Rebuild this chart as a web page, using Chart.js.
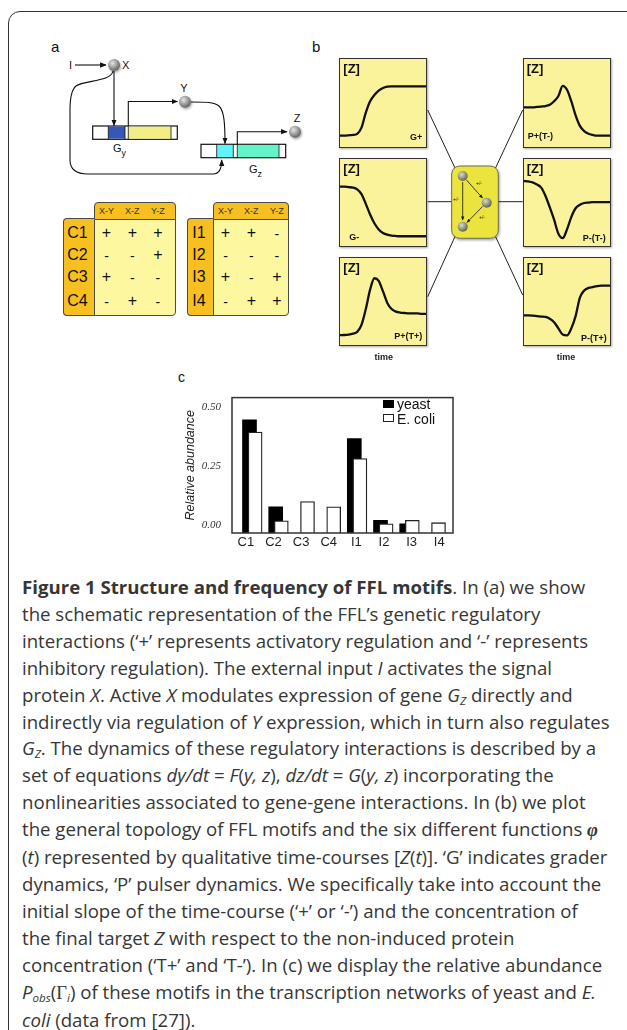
<!DOCTYPE html>
<html>
<head>
<meta charset="utf-8">
<script src="https://cdn.jsdelivr.net/npm/chart.js@4.4.1/dist/chart.umd.min.js"></script>
<style>
  html, body { margin: 0; padding: 0; background: #fff; }
  body { width: 627px; height: 1030px; position: relative; overflow: hidden;
         font-family: "Liberation Sans", Arial, sans-serif; color: #111; }
  .abs { position: absolute; }
  .frame { position: absolute; left: 8px; top: 11px; width: 650px; height: 1060px;
           border: 1.5px solid #333; border-radius: 12px; }
  .plabel { position: absolute; font-size: 15px; color: #111; }
  .box { position: absolute; background: #fbf39c; border: 1.3px solid #333;
         box-shadow: 1px 1px 2px rgba(0,0,0,0.35); overflow: hidden; }
  .box canvas { position: absolute; left: 0; top: 0; }
  .zlab { position: absolute; left: 3px; top: 2px; font-weight: bold; font-size: 13px; color: #111; }
  .blab { position: absolute; font-weight: bold; font-size: 9px; color: #111; white-space: nowrap; }
  .time { position: absolute; font-weight: bold; font-size: 9px; color: #222; transform: translate(-50%, -50%); }
  .tcell { position: absolute; box-sizing: border-box; }
  .tt { position: absolute; transform: translate(-50%, -50%); white-space: nowrap; }
  #caption { position: absolute; left: 22px; top: 574px; font-family: "Open Sans", sans-serif;
             color: #363636; line-height: 26.9px; font-size: 18px; }
  #caption div { white-space: nowrap; }
  #caption sub { font-size: 0.62em; vertical-align: -0.25em; line-height: 0; }
  .leg { position: absolute; font-size: 14px; color: #111; transform: translateY(-50%); white-space: nowrap; }
</style>
</head>
<body>
<script>
// Relative abundance of FFL motif types (panel c)
const motifs = ['C1', 'C2', 'C3', 'C4', 'I1', 'I2', 'I3', 'I4'];
const yeast  = [0.447, 0.079, null, null, 0.368, 0.022, 0.007, null];
const ecoli  = [0.395, 0.020, 0.101, 0.079, 0.283, 0.007, 0.022, 0.012];
const abundanceTicks = [0.00, 0.25, 0.50];

// Qualitative time-courses [Z](t) (panel b), one value per time step
const timeSteps = ['0','1','2','3','4','5','6','7','8','9','10','11','12','13','14','15','16','17','18','19','20'];
const gPlus   = [0.13,0.13,0.133,0.137,0.15,0.22,0.39,0.52,0.59,0.64,0.67,0.685,0.69,0.69,0.69,0.69,0.69,0.69,0.69,0.69,0.69];
const gMinus  = [0.685,0.685,0.68,0.675,0.655,0.6,0.49,0.37,0.27,0.2,0.16,0.14,0.13,0.125,0.122,0.122,0.122,0.122,0.122,0.122,0.122];
const pPlusTPlus   = [0.123,0.125,0.13,0.14,0.16,0.24,0.42,0.64,0.77,0.74,0.62,0.49,0.42,0.39,0.38,0.375,0.37,0.37,0.37,0.366,0.366];
const pPlusTMinus  = [0.45,0.45,0.45,0.455,0.46,0.465,0.48,0.52,0.58,0.695,0.65,0.52,0.36,0.24,0.18,0.15,0.137,0.13,0.13,0.13,0.13];
const pMinusTMinus = [0.75,0.745,0.735,0.71,0.675,0.58,0.45,0.31,0.15,0.10,0.2,0.34,0.44,0.48,0.5,0.505,0.51,0.51,0.51,0.51,0.51];
const pMinusTPlus  = [0.347,0.347,0.345,0.34,0.335,0.33,0.31,0.27,0.2,0.13,0.12,0.2,0.34,0.55,0.63,0.66,0.67,0.68,0.685,0.685,0.685];

// Sign tables (panel a)
const edgePairs = ['X-Y', 'X-Z', 'Y-Z'];
const coherentNames = ['C1', 'C2', 'C3', 'C4'];
const coherentSigns = [['+','+','+'], ['-','-','+'], ['+','-','-'], ['-','+','-']];
const incoherentNames = ['I1', 'I2', 'I3', 'I4'];
const incoherentSigns = [['+','+','-'], ['-','-','-'], ['+','-','+'], ['-','+','+']];
</script>

<div class="frame"></div>

<!-- schematic drawings: panel a network and panel b hub -->
<svg class="abs" style="left:0;top:0" width="627" height="1030" xmlns="http://www.w3.org/2000/svg">
  <defs>
    <radialGradient id="ball" cx="0.38" cy="0.35" r="0.7">
      <stop offset="0" stop-color="#e6e6e6"/>
      <stop offset="0.55" stop-color="#9a9a9a"/>
      <stop offset="1" stop-color="#5a5a5a"/>
    </radialGradient>
    <radialGradient id="ballO" cx="0.38" cy="0.35" r="0.7">
      <stop offset="0" stop-color="#dcdccc"/>
      <stop offset="0.55" stop-color="#95957f"/>
      <stop offset="1" stop-color="#5b5b4c"/>
    </radialGradient>
    <marker id="ah" viewBox="0 0 10 10" refX="9" refY="5" markerWidth="6" markerHeight="6" orient="auto-start-reverse">
      <path d="M0,1 L10,5 L0,9 z" fill="#111"/>
    </marker>
    <marker id="ahs" viewBox="0 0 10 10" refX="9" refY="5" markerWidth="5" markerHeight="5" orient="auto">
      <path d="M0,1 L10,5 L0,9 z" fill="#111"/>
    </marker>
    <filter id="sh" x="-50%" y="-50%" width="200%" height="200%">
      <feDropShadow dx="1" dy="1.5" stdDeviation="1" flood-color="#000" flood-opacity="0.35"/>
    </filter>
  </defs>

  <!-- panel a -->
  <text x="70.5" y="69" font-family="Liberation Sans" font-size="11" fill="#111" text-anchor="middle">I</text>
  <line x1="75" y1="65" x2="106" y2="65" stroke="#111" stroke-width="1.1" marker-end="url(#ah)"/>
  <path d="M113,71 C111,82 84,80 76,86 C71,90 70,98 70,110 L70,160 C70,170 76,174 88,174 L213,174 C219,174 221.7,170 221.7,160"
        fill="none" stroke="#111" stroke-width="1.1" marker-end="url(#ah)"/>
  <line x1="114" y1="71" x2="114" y2="125.5" stroke="#111" stroke-width="1.1" marker-end="url(#ah)"/>

  <rect x="92.7" y="126" width="84.6" height="13.3" fill="#fff" stroke="#111" stroke-width="1.2"/>
  <rect x="108.3" y="126.6" width="16.7" height="12.1" fill="#3558b8"/>
  <rect x="128.3" y="126.6" width="42.7" height="12.1" fill="#f2ee84"/>
  <line x1="108.3" y1="126" x2="108.3" y2="139.3" stroke="#111" stroke-width="0.8"/>
  <line x1="125" y1="126" x2="125" y2="139.3" stroke="#111" stroke-width="0.8"/>
  <line x1="128.3" y1="126" x2="128.3" y2="139.3" stroke="#111" stroke-width="0.8"/>
  <line x1="171" y1="126" x2="171" y2="139.3" stroke="#111" stroke-width="0.8"/>
  <text x="113" y="151.5" font-family="Liberation Sans" font-size="11" fill="#111">G<tspan font-size="9" dy="4">y</tspan></text>

  <path d="M128.3,126 L128.3,101.5 L177.5,101.5" fill="none" stroke="#111" stroke-width="1.1" marker-end="url(#ah)"/>
  <path d="M191,102 C206,102 214,102 219,106 C224,111 225,122 225,143.5" fill="none" stroke="#111" stroke-width="1.1" marker-end="url(#ah)"/>

  <rect x="201" y="144.3" width="84.7" height="13.4" fill="#fff" stroke="#111" stroke-width="1.2"/>
  <rect x="216.7" y="144.9" width="16.6" height="12.2" fill="#5ff3fa"/>
  <rect x="237.3" y="144.9" width="41.7" height="12.2" fill="#63f5c9"/>
  <line x1="216.7" y1="144.3" x2="216.7" y2="157.7" stroke="#111" stroke-width="0.8"/>
  <line x1="233.3" y1="144.3" x2="233.3" y2="157.7" stroke="#111" stroke-width="0.8"/>
  <line x1="237.3" y1="144.3" x2="237.3" y2="157.7" stroke="#111" stroke-width="0.8"/>
  <line x1="279" y1="144.3" x2="279" y2="157.7" stroke="#111" stroke-width="0.8"/>
  <text x="249" y="172.5" font-family="Liberation Sans" font-size="11" fill="#111">G<tspan font-size="9" dy="4">z</tspan></text>
  <path d="M237.3,144.3 L237.3,131.7 L287,131.7" fill="none" stroke="#111" stroke-width="1.1" marker-end="url(#ah)"/>

  <circle cx="114" cy="65" r="6" fill="url(#ball)" filter="url(#sh)"/>
  <circle cx="185" cy="101.7" r="6" fill="url(#ball)" filter="url(#sh)"/>
  <circle cx="295" cy="131.7" r="6" fill="url(#ball)" filter="url(#sh)"/>
  <text x="122" y="69" font-family="Liberation Sans" font-size="11" fill="#111">X</text>
  <text x="184" y="92" font-family="Liberation Sans" font-size="11" fill="#111" text-anchor="middle">Y</text>
  <text x="297" y="122" font-family="Liberation Sans" font-size="11" fill="#111" text-anchor="middle">Z</text>

  <!-- panel b connectors -->
  <g stroke="#222" stroke-width="1">
    <line x1="427.7" y1="110" x2="455" y2="168"/>
    <line x1="427.7" y1="201.7" x2="451.7" y2="201.7"/>
    <line x1="427.7" y1="296.7" x2="455" y2="236.5"/>
    <line x1="522.7" y1="110" x2="495.5" y2="168"/>
    <line x1="522.7" y1="201.7" x2="498.3" y2="201.7"/>
    <line x1="522.7" y1="295" x2="495.5" y2="236.5"/>
  </g>
  <rect x="451.7" y="166" width="46.6" height="72.3" rx="8" ry="8" fill="#ebe43c" stroke="#6a6a5a" stroke-width="1" filter="url(#sh)"/>
  <line x1="466.5" y1="180" x2="482.5" y2="198" stroke="#111" stroke-width="0.8" marker-end="url(#ahs)"/>
  <line x1="462.7" y1="182" x2="462.7" y2="220" stroke="#111" stroke-width="0.8" marker-end="url(#ahs)"/>
  <line x1="482.5" y1="206.5" x2="467" y2="222.5" stroke="#111" stroke-width="0.8" marker-end="url(#ahs)"/>
  <circle cx="462.7" cy="176" r="5" fill="url(#ballO)"/>
  <circle cx="486.7" cy="202.7" r="5" fill="url(#ballO)"/>
  <circle cx="462.7" cy="226.7" r="5" fill="url(#ballO)"/>
  <g font-family="Liberation Sans" font-size="5" fill="#111">
    <text x="476" y="185">+/-</text>
    <text x="453" y="201">+/-</text>
    <text x="479" y="219">+/-</text>
  </g>
</svg>

<div class="plabel" style="left:51px;top:38px;">a</div>
<div class="plabel" style="left:312px;top:38px;">b</div>
<div class="plabel" style="left:178px;top:369px;font-size:14px;">c</div>

<div id="tables"></div>
<div id="boxes"></div>
<div class="time" style="left:383.7px;top:356.7px;">time</div>
<div class="time" style="left:566px;top:356.7px;">time</div>

<!-- panel c -->
<canvas id="bars" class="abs" style="left:175px;top:380px;" width="285" height="173"></canvas>
<div class="abs" style="left:383px;top:399.5px;width:11px;height:8px;background:#000;"></div>
<div class="leg" style="left:397px;top:403.5px;">yeast</div>
<div class="abs" style="left:383px;top:414px;width:11px;height:8px;background:#fff;border:1px solid #222;box-sizing:border-box;"></div>
<div class="leg" style="left:397px;top:418.5px;">E. coli</div>

<div id="caption">
  <div><span><b>Figure 1 Structure and frequency of FFL motifs</b>. In (a) we show</span></div>
  <div><span>the schematic representation of the FFL’s genetic regulatory</span></div>
  <div><span>interactions (‘+’ represents activatory regulation and ‘-’ represents</span></div>
  <div><span>inhibitory regulation). The external input <i>I</i> activates the signal</span></div>
  <div><span>protein <i>X</i>. Active <i>X</i> modulates expression of gene <i>G<sub>Z</sub></i> directly and</span></div>
  <div><span id="capRef">indirectly via regulation of <i>Y</i> expression, which in turn also regulates</span></div>
  <div><span><i>G<sub>Z</sub></i>. The dynamics of these regulatory interactions is described by a</span></div>
  <div><span>set of equations <i>dy/dt</i> = <i>F</i>(<i>y, z</i>), <i>dz/dt</i> = <i>G</i>(<i>y, z</i>) incorporating the</span></div>
  <div><span>nonlinearities associated to gene-gene interactions. In (b) we plot</span></div>
  <div><span>the general topology of FFL motifs and the six different functions <b><i style="font-family:'Liberation Serif',serif;">φ</i></b></span></div>
  <div><span>(<i>t</i>) represented by qualitative time-courses [<i>Z</i>(<i>t</i>)]. ‘G’ indicates grader</span></div>
  <div><span>dynamics, ‘P’ pulser dynamics. We specifically take into account the</span></div>
  <div><span>initial slope of the time-course (‘+’ or ‘-’) and the concentration of</span></div>
  <div><span>the final target <i>Z</i> with respect to the non-induced protein</span></div>
  <div><span>concentration (‘T+’ and ‘T-’). In (c) we display the relative abundance</span></div>
  <div><span><i>P<sub>obs</sub></i>(<span style="font-family:'Liberation Serif',serif;">Γ</span><sub><i>i</i></sub>) of these motifs in the transcription networks of yeast and <i>E.</i></span></div>
  <div><span><i>coli</i> (data from [27]).</span></div>
</div>

<script>
// ---- caption sizing: the longest plain line spans the text column ----
(function () {
  const cap = document.getElementById('caption');
  const ref = document.getElementById('capRef');
  const w = ref.getBoundingClientRect().width;
  cap.style.fontSize = (18 * 588 / w) + 'px';
})();

// ---- panel a: sign tables ----
function buildTable(host, leftX, bodyX, rightX, names, signs) {
  const headTop = 201.7, bodyTop = 219.3, bottom = 316;
  const orange = '#f7bf1f', pale = '#fdf7a0', edge = '1px solid #4a4a4a';
  const add = (css, text, cls) => {
    const d = document.createElement('div');
    d.className = cls || 'tcell';
    d.style.cssText = css;
    if (text !== undefined) d.textContent = text;
    host.appendChild(d);
    return d;
  };
  add(`left:${bodyX}px;top:${headTop}px;width:${rightX - bodyX}px;height:${bodyTop - headTop + 1}px;background:${orange};border:${edge};border-radius:4px 4px 0 0;`);
  add(`left:${leftX}px;top:${bodyTop - 1}px;width:${bodyX - leftX + 1}px;height:${bottom - bodyTop + 1}px;background:${orange};border:${edge};border-right:none;border-radius:4px 0 0 4px;`);
  add(`left:${bodyX}px;top:${bodyTop}px;width:${rightX - bodyX}px;height:${bottom - bodyTop}px;background:${pale};border:${edge};border-radius:0 0 4px 0;`);
  const colOff = [12.2, 38, 63.5];
  const rowOff = [14, 35.8, 58, 81.4];
  edgePairs.forEach((p, j) => add(`left:${bodyX + colOff[j]}px;top:${(headTop + bodyTop) / 2 + 0.5}px;font-size:9px;color:#333;`, p, 'tt'));
  names.forEach((n, i) => {
    add(`left:${(leftX + bodyX) / 2 - 1}px;top:${bodyTop + rowOff[i]}px;font-size:16px;color:#111;`, n, 'tt');
    signs[i].forEach((s, j) => add(`left:${bodyX + colOff[j]}px;top:${bodyTop + rowOff[i] + (s === '-' ? 1 : 0)}px;font-size:${s === '-' ? 14 : 16}px;color:#111;`, s, 'tt'));
  });
}
const tables = document.getElementById('tables');
buildTable(tables, 62.7, 94.3, 175.7, coherentNames, coherentSigns);
buildTable(tables, 186.7, 213.3, 289.3, incoherentNames, incoherentSigns);

// ---- panel b: six time-course panels ----
const panels = [
  { data: gPlus,        x: 339.3, y: 58.3,  label: 'G+',     lab: 'right:4px;bottom:5px;' },
  { data: gMinus,       x: 339.3, y: 157.7, label: 'G-',     lab: 'left:9px;bottom:4px;' },
  { data: pPlusTPlus,   x: 339.3, y: 256.7, label: 'P+(T+)', lab: 'right:4px;bottom:4px;' },
  { data: pPlusTMinus,  x: 522.7, y: 58.3,  label: 'P+(T-)', lab: 'left:4px;bottom:6px;' },
  { data: pMinusTMinus, x: 522.7, y: 157.7, label: 'P-(T-)', lab: 'right:4px;bottom:3px;' },
  { data: pMinusTPlus,  x: 522.7, y: 256.7, label: 'P-(T+)', lab: 'right:3px;bottom:2px;' }
];
const boxHost = document.getElementById('boxes');
panels.forEach(p => {
  const box = document.createElement('div');
  box.className = 'box';
  box.style.cssText = `left:${p.x}px;top:${p.y}px;width:86px;height:87.5px;`;
  const cv = document.createElement('canvas');
  cv.width = 86; cv.height = 88;
  box.appendChild(cv);
  const z = document.createElement('div');
  z.className = 'zlab'; z.textContent = '[Z]';
  box.appendChild(z);
  const l = document.createElement('div');
  l.className = 'blab'; l.style.cssText = p.lab; l.textContent = p.label;
  box.appendChild(l);
  boxHost.appendChild(box);
  new Chart(cv, {
    type: 'line',
    data: { labels: timeSteps, datasets: [{ data: p.data, borderColor: '#111', borderWidth: 2.3,
      pointRadius: 0, cubicInterpolationMode: 'monotone', fill: false }] },
    options: {
      responsive: false, animation: false, events: [],
      layout: { padding: 0 },
      plugins: { legend: { display: false }, tooltip: { enabled: false } },
      scales: { x: { display: false, offset: false }, y: { display: false, min: 0, max: 1 } }
    }
  });
});

// ---- panel c: bar chart ----
const Y_MIN = -0.0316, Y_MAX = 0.541;
const plotFrame = {
  id: 'plotFrame',
  afterDraw(chart) {
    const { ctx, chartArea: a } = chart;
    ctx.save();
    ctx.strokeStyle = '#333';
    ctx.lineWidth = 1.5;
    ctx.strokeRect(a.left, a.top, a.right - a.left, a.bottom - a.top);
    ctx.restore();
  }
};
new Chart(document.getElementById('bars'), {
  type: 'bar',
  data: {
    labels: motifs,
    datasets: [
      { label: 'yeast', data: yeast.map((v, i) => ({ x: i, y: v })), xAxisID: 'xYeast', grouped: false,
        backgroundColor: '#000', borderWidth: 0, base: Y_MIN, barThickness: 14, order: 1 },
      { label: 'E. coli', data: ecoli.map((v, i) => ({ x: i, y: v })), xAxisID: 'xEcoli', grouped: false,
        backgroundColor: '#fff', borderColor: '#222', borderWidth: 1.3, base: Y_MIN, barThickness: 14, order: 0 }
    ]
  },
  options: {
    responsive: false, animation: false, events: [],
    layout: { padding: { left: 0, right: 7, top: 8, bottom: 0 } },
    plugins: { legend: { display: false }, tooltip: { enabled: false } },
    scales: {
      x: { type: 'category', labels: motifs, offset: true,
           grid: { display: false, drawTicks: false }, border: { display: false },
           afterFit: s => { s.height = 20; },
           ticks: { padding: 2, color: '#222', font: { family: 'Liberation Sans', size: 13 } } },
      xYeast: { type: 'linear', display: false, offset: false, grid: { offset: false }, min: -0.668, max: 7.767 },
      xEcoli: { type: 'linear', display: false, offset: false, grid: { offset: false }, min: -0.882, max: 7.553 },
      y: { min: Y_MIN, max: Y_MAX,
           grid: { display: false, drawTicks: false }, border: { display: false },
           afterBuildTicks: s => { s.ticks = abundanceTicks.map(v => ({ value: v })); },
           afterFit: s => { s.width = 57; },
           ticks: { padding: 11, color: '#333', callback: v => Number(v).toFixed(2),
                    font: { family: 'Liberation Serif', style: 'italic', size: 11 } },
           title: { display: true, text: 'Relative abundance', color: '#222', padding: { top: 8, bottom: 0 },
                    font: { family: 'Liberation Sans', style: 'italic', size: 12.5 } } }
    }
  },
  plugins: [plotFrame]
});
</script>
</body>
</html>
